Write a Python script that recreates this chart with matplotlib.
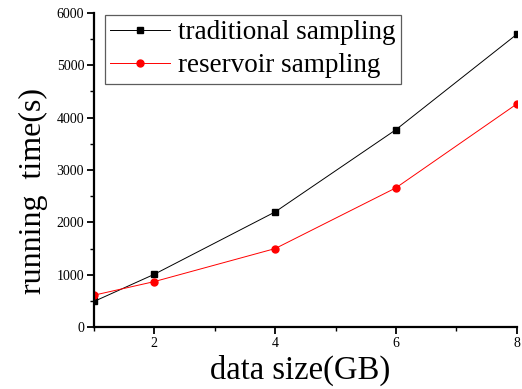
import matplotlib
matplotlib.use("Agg")
import matplotlib.pyplot as plt
from matplotlib.ticker import MultipleLocator

plt.rcParams['font.family'] = ['Liberation Serif', 'DejaVu Serif']

data_size = [1, 2, 4, 6, 8]
traditional = [490, 1010, 2200, 3770, 5590]
reservoir = [610, 870, 1500, 2660, 4260]

fig = plt.figure(figsize=(5.22, 3.89), dpi=100)
ax = fig.add_axes([0.180, 0.159, 0.810, 0.808])

ax.plot(data_size, traditional, color='black', lw=0.7, marker='s', ms=4.5,
        label='traditional sampling')
ax.plot(data_size, reservoir, color='red', lw=0.7, marker='o', ms=5,
        label='reservoir sampling')

ax.set_xlim(1, 8)
ax.set_ylim(0, 6000)
ax.xaxis.set_major_locator(MultipleLocator(2))
ax.xaxis.set_minor_locator(MultipleLocator(1))
ax.yaxis.set_major_locator(MultipleLocator(1000))
ax.yaxis.set_minor_locator(MultipleLocator(500))

for s in ['top', 'right']:
    ax.spines[s].set_visible(False)
for s in ['left', 'bottom']:
    ax.spines[s].set_linewidth(1.6)

ax.tick_params(which='major', direction='out', length=5, width=1.3, labelsize=10, pad=2)
ax.tick_params(which='minor', direction='out', length=3, width=1.0)

ax.set_xlabel('data size(GB)', fontsize=23.5, va='center')
ax.set_ylabel('running  time(s)', fontsize=23, va='center')
ax.xaxis.set_label_coords(0.487, -0.137)
ax.yaxis.set_label_coords(-0.144, 0.433)

leg = ax.legend(loc='upper left', fontsize=19.5, frameon=True, fancybox=False,
                edgecolor='#333333', handlelength=2.2, handletextpad=0.3,
                borderpad=0.2, labelspacing=0.3, borderaxespad=0,
                bbox_to_anchor=(0.026, 0.994))
leg.get_frame().set_linewidth(0.9)

fig.savefig('out.png', dpi=100)
